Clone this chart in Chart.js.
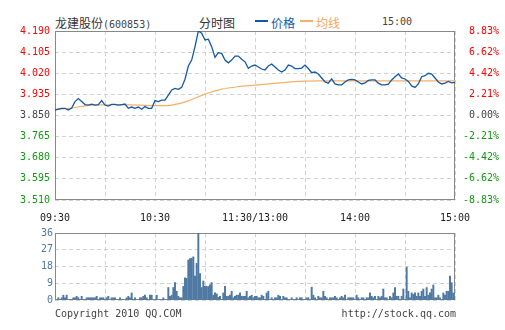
<!DOCTYPE html>
<html>
<head>
<meta charset="utf-8">
<script src="https://cdn.jsdelivr.net/npm/chart.js@4.4.1/dist/chart.umd.min.js"></script>
<style>
  body { margin: 0; background: #fff; width: 505px; height: 330px; overflow: hidden; position: relative; }
  .box { position: absolute; left: 0; width: 505px; }
  #priceBox { top: 0; height: 225px; }
  #volBox { top: 225px; height: 105px; }
  .t { position: absolute; white-space: nowrap; line-height: 12px; }
  .mono { font: 10px "DejaVu Sans Mono", monospace; color: #444; }
  .cn { font: 12px "Noto Sans CJK SC", sans-serif; color: #333; }
  .dash { position: absolute; height: 2px; width: 13px; }
</style>
</head>
<body>
<div class="t cn" style="left:55px;top:14px">龙建股份<span class="mono">(600853)</span></div>
<div class="t cn" style="left:199px;top:14px">分时图</div>
<div class="dash" style="left:255px;top:20px;background:#1259a8"></div>
<div class="t cn" style="left:271px;top:14px;color:#1259a8">价格</div>
<div class="dash" style="left:300px;top:20px;background:#f5b06a"></div>
<div class="t cn" style="left:316px;top:14px;color:#f5a85c">均线</div>
<div class="t mono" style="left:382px;top:16px">15:00</div>

<div class="box" id="priceBox"><canvas id="priceChart"></canvas></div>
<div class="box" id="volBox"><canvas id="volChart"></canvas></div>

<div class="t mono" style="left:55px;top:308px">Copyright 2010 QQ.COM</div>
<div class="t mono" style="right:49px;top:308px">http://stock.qq.com</div>

<script>
// 600853 intraday, previous close 3.850
const prevClose = 3.85;

// last price every 2 minutes from 09:30 (index 0) to 15:00 (index 120)
const prices = [
  3.872, 3.876, 3.879, 3.879, 3.872, 3.880, 3.906, 3.918, 3.906, 3.894,
  3.892, 3.896, 3.892, 3.894, 3.910, 3.892, 3.888, 3.895, 3.895, 3.892,
  3.894, 3.896, 3.879, 3.884, 3.879, 3.884, 3.875, 3.886, 3.879, 3.879,
  3.910, 3.906, 3.912, 3.912, 3.932, 3.953, 3.959, 3.955, 3.963, 3.996,
  4.049, 4.073, 4.127, 4.190, 4.181, 4.154, 4.157, 4.127, 4.084, 4.103,
  4.100, 4.073, 4.062, 4.073, 4.089, 4.089, 4.076, 4.066, 4.040, 4.049,
  4.053, 4.045, 4.037, 4.033, 4.049, 4.057, 4.045, 4.033, 4.025, 4.033,
  4.053, 4.049, 4.039, 4.039, 4.041, 4.053, 4.039, 4.022, 4.025, 4.017,
  4.001, 3.985, 3.980, 3.997, 3.977, 3.973, 3.973, 3.985, 3.993, 3.995,
  3.993, 3.985, 3.977, 3.981, 3.991, 3.993, 3.993, 3.980, 3.973, 3.973,
  3.976, 3.993, 4.006, 4.017, 4.001, 3.997, 3.987, 3.969, 3.963, 3.977,
  4.006, 4.010, 4.020, 4.017, 4.001, 3.985, 3.977, 3.980, 3.987, 3.981,
  3.983
];

// average price every 10 minutes
const avgPrices = [
  3.874, 3.880, 3.891, 3.893, 3.893, 3.892, 3.890, 3.892, 3.909, 3.936,
  3.956, 3.966, 3.972, 3.978, 3.984, 3.988, 3.989, 3.989, 3.989, 3.989,
  3.989, 3.989, 3.989, 3.989, 3.989
];

// volume per minute (10k shares), 241 minutes
const volumes = [
  0, 0, 1.2, 0, 1.2, 2.6, 1.2, 2.6, 0, 0,
  0, 1.2, 1.2, 2, 1.2, 0, 2, 0, 0, 1.2,
  1.2, 1.2, 1.2, 1.2, 1.2, 2, 0, 1.2, 1.2, 1.2,
  0, 1.2, 2, 0, 1.2, 1.2, 1.2, 0, 0, 1.2,
  0, 0, 0, 1.2, 2, 1.2, 3.8, 0, 1.2, 0,
  0, 1.2, 1.2, 2, 2.6, 1.2, 0, 2.6, 2.6, 0,
  0, 2.6, 0, 0, 0, 1.2, 0, 0, 6.7, 2,
  2.6, 6.7, 9.3, 4.7, 2, 1.2, 1.2, 7.3, 11.9, 11.6,
  21.5, 22.3, 22.5, 23.2, 12.8, 19.7, 36, 14.2, 6.7, 10.2,
  7.3, 7.3, 7.3, 8.1, 9.3, 2.6, 3.8, 3.3, 1.5, 2,
  0, 3.8, 7.3, 2, 2, 2.6, 4.7, 1.2, 2, 2.6,
  2.6, 3.8, 2, 2, 2, 4.7, 1.2, 2, 2.6, 1.2,
  2, 2, 1.2, 1.2, 2.6, 2, 0, 3.8, 4.7, 0,
  1.2, 0, 1.2, 1.2, 2.6, 2, 0, 2, 1.2, 1.2,
  0, 0, 1.2, 0, 0, 1.2, 0, 1.2, 1.2, 0,
  0, 1.2, 1.2, 0, 6.9, 2.6, 1.2, 0, 2, 1.2,
  1.2, 4.7, 2, 1.2, 0, 1.2, 1.2, 1.2, 2, 1.2,
  0, 1.2, 2, 1.2, 2.6, 0, 1.2, 1.2, 1.2, 1.2,
  0, 2.6, 1.2, 0, 1.2, 1.2, 0, 1.2, 1.2, 3.8,
  2, 1.2, 2, 0, 2, 1.2, 2, 5.9, 1.2, 1.2,
  0, 2, 1.2, 3.8, 6.7, 2, 2, 0, 2, 5.9,
  0, 17.6, 4.7, 1.2, 3.8, 3, 3.8, 2, 3.8, 2,
  4.7, 5.9, 2, 6.7, 2.6, 3.8, 5.9, 8.1, 1.2, 1.2,
  2.6, 1.2, 0, 3.8, 2.6, 4.7, 4.7, 12.8, 9.3, 3.8,
  1.2
];

const priceTicks = [3.510, 3.595, 3.680, 3.765, 3.850, 3.935, 4.020, 4.105, 4.190];
const pctTicks = ['-8.83%', '-6.62%', '-4.42%', '-2.21%', '0.00%', '2.21%', '4.42%', '6.62%', '8.83%'];
const volTicks = [0, 9, 18, 27, 36];
const timeTicks = [0, 30, 60, 90, 120, 150, 180, 210, 240];
const timeLabels = ['09:30', '10:30', '11:30/13:00', '14:00', '15:00'];

const RED = '#ff0000';
const GREEN = '#119911';
const GREY = '#444444';
const GRID = '#d2d2d2';
const monoFont = { family: 'DejaVu Sans Mono', size: 10 };

function tickColor(c) {
  const v = c.tick.value;
  if (v > prevClose + 1e-6) return RED;
  if (v < prevClose - 1e-6) return GREEN;
  return GREY;
}

// grey frame round the plot area
const frame = {
  id: 'frame',
  beforeDatasetsDraw(chart) {
    const { ctx, chartArea: a } = chart;
    ctx.save();
    ctx.strokeStyle = '#888';
    ctx.lineWidth = 1;
    ctx.strokeRect(Math.round(a.left) + 0.5, Math.round(a.top) + 0.5,
      Math.round(a.width) - 1, Math.round(a.height) - 1);
    ctx.restore();
  }
};

const timeAxis = {
  type: 'linear',
  min: 0,
  max: 240,
  offset: false,
  grid: { color: GRID, drawTicks: false, offset: false },
  border: { display: false, dash: [4, 3] },
  afterBuildTicks: s => { s.ticks = timeTicks.map(v => ({ value: v })); }
};

new Chart(document.getElementById('priceChart'), {
  type: 'line',
  data: {
    datasets: [
      {
        data: prices.map((p, i) => ({ x: i * 2, y: p })),
        borderColor: '#1259a8',
        borderWidth: 1.3,
        pointRadius: 0,
        tension: 0
      },
      {
        data: avgPrices.map((p, i) => ({ x: i * 10, y: p })),
        borderColor: '#f5b06a',
        borderWidth: 1.2,
        pointRadius: 0,
        tension: 0.3
      }
    ]
  },
  options: {
    responsive: true,
    maintainAspectRatio: false,
    animation: false,
    layout: { padding: { top: 31, right: 6, left: 0, bottom: 0 } },
    plugins: { legend: { display: false }, tooltip: { enabled: false } },
    scales: {
      x: {
        ...timeAxis,
        ticks: {
          autoSkip: false,
          maxRotation: 0,
          padding: 12,
          color: '#222',
          font: monoFont,
          callback: v => (v % 60 === 0 ? timeLabels[v / 60] : '')
        },
        afterFit: s => { s.height = 25; }
      },
      y: {
        position: 'left',
        min: 3.51,
        max: 4.19,
        grid: { color: GRID, drawTicks: false },
        border: { display: false, dash: [4, 3] },
        ticks: {
          padding: 5,
          font: monoFont,
          color: tickColor,
          callback: v => v.toFixed(3)
        },
        afterBuildTicks: s => { s.ticks = priceTicks.map(v => ({ value: v })); },
        afterFit: s => { s.width = 55; }
      },
      y1: {
        position: 'right',
        min: 3.51,
        max: 4.19,
        grid: { display: false },
        border: { display: false },
        ticks: {
          crossAlign: 'far',
          font: monoFont,
          color: tickColor,
          callback: (v, i) => pctTicks[i]
        },
        afterBuildTicks: s => { s.ticks = priceTicks.map(v => ({ value: v })); },
        afterFit: s => { s.width = 44; }
      }
    }
  },
  plugins: [frame]
});

new Chart(document.getElementById('volChart'), {
  type: 'bar',
  data: {
    datasets: [{
      data: volumes.map((v, i) => ({ x: i, y: v })),
      backgroundColor: '#4e79a3',
      barThickness: 1.3
    }]
  },
  options: {
    responsive: true,
    maintainAspectRatio: false,
    animation: false,
    layout: { padding: { top: 6, right: 50, left: 0, bottom: 0 } },
    plugins: { legend: { display: false }, tooltip: { enabled: false } },
    scales: {
      x: {
        ...timeAxis,
        ticks: { display: false },
        afterFit: s => { s.height = 30; }
      },
      y: {
        min: 0,
        max: 36,
        grid: { color: GRID, drawTicks: false },
        border: { display: false, dash: [4, 3] },
        ticks: { padding: 2, font: monoFont, color: '#4e79a3' },
        afterBuildTicks: s => { s.ticks = volTicks.map(v => ({ value: v })); },
        afterFit: s => { s.width = 55; }
      }
    }
  },
  plugins: [frame]
});
</script>
</body>
</html>
